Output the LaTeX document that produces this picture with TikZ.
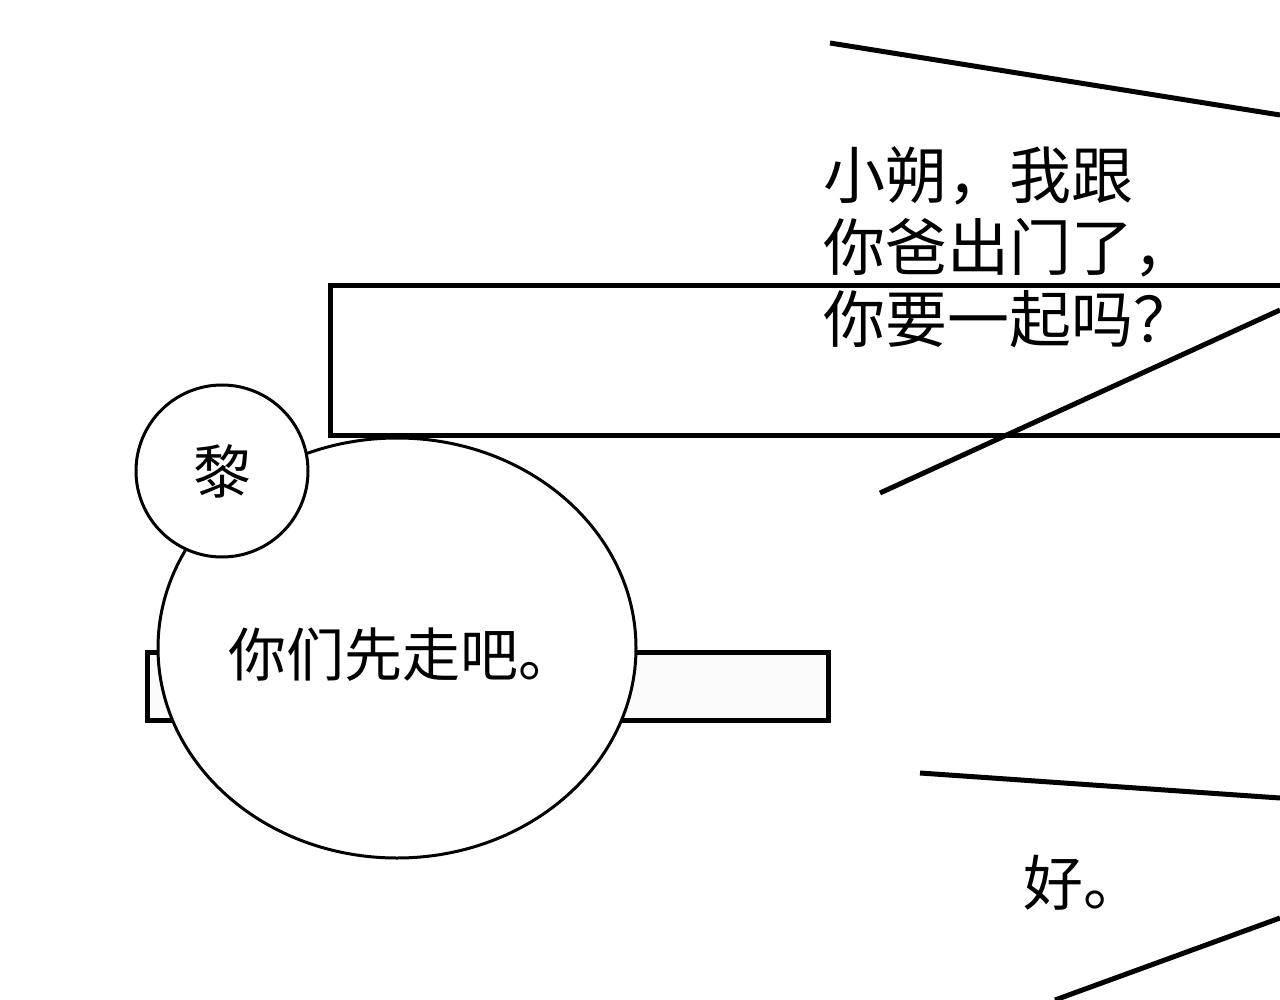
\documentclass[tikz,border=0pt]{standalone}
\usepackage{fontspec}
\newfontfamily\cjk{Noto Sans CJK SC}
\usetikzlibrary{shapes.geometric}
\tikzset{
  panel/.style = {draw, line width=2.5pt},
  speed/.style = {line width=2.5pt},
  bubble/.style = {draw, fill=white, line width=1.5pt},
  say/.style = {font=\cjk\fontsize{28}{36}\selectfont, align=left, inner sep=0}
}
\begin{document}
\begin{tikzpicture}[x=0.5pt, y=-0.5pt]
  \useasboundingbox (0,0) rectangle (1280,1000);
  % speed lines
  \draw [speed] (830,43) -- (1280,115);
  \draw [panel] (330,286) rectangle (1300,435);
  \draw [speed] (880,493) -- (1280,310);
  \draw [speed] (920,773) -- (1280,798);
  \draw [speed] (1055,1000) -- (1280,918);
  \node [say, anchor=north west, font=\cjk\fontsize{31}{36}\selectfont] (mom) at (823,146) {小朔，我跟\\你爸出门了，\\你要一起吗？};
  % lower panel and bubbles
  \draw [panel, fill=gray!3] (147,652) rectangle (828,720);
  \node [bubble, ellipse, inner sep=0, minimum width=239pt, minimum height=210pt] (talk) at (397,648) {};
  \node [say, font=\cjk\fontsize{29}{36}\selectfont] (line) at (402,655) {你们先走吧。};
  \node [bubble, circle, minimum size=86pt, inner sep=0] (name) at (222,471) {};
  \node [say, font=\cjk\fontsize{29}{36}\selectfont] at (name) {黎};
  \node [say, font=\cjk\fontsize{30}{36}\selectfont] (reply) at (1083,883) {好。};
\end{tikzpicture}
\end{document}
